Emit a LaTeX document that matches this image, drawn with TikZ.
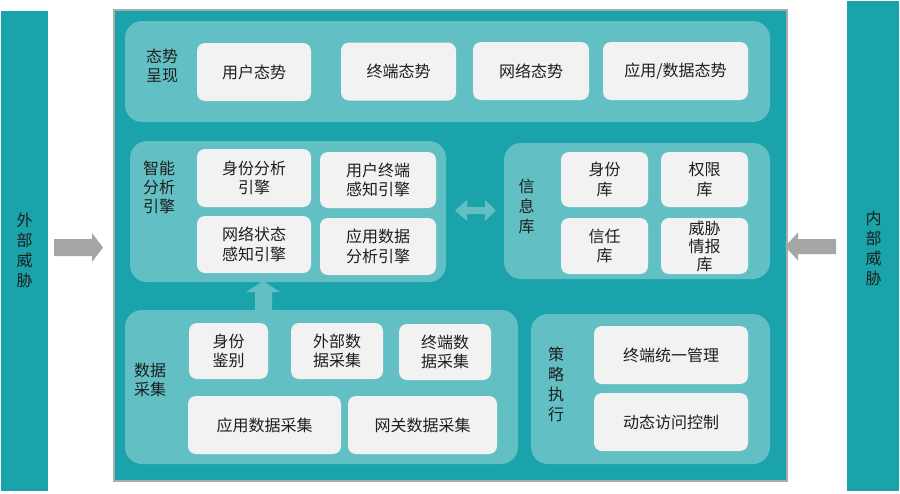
\documentclass[tikz,border=0pt]{standalone}
\usepackage{fontspec}
\newfontfamily\cjk{Noto Sans CJK SC}
\definecolor{darkteal}{HTML}{1AA3AA}
\definecolor{lightteal}{HTML}{62C0C4}
\definecolor{boxgray}{HTML}{F2F2F2}
\definecolor{arrowgray}{HTML}{A6A6A6}
\definecolor{bordergray}{HTML}{ABABAB}
\definecolor{txt}{HTML}{1E1E1E}
\begin{document}
\begin{tikzpicture}[x=1pt,y=-1pt,
  bar/.style={fill=darkteal, draw=none, inner sep=0pt, align=center, text=txt,
    font=\cjk\fontsize{15.5}{20}\selectfont},
  mainbox/.style={fill=darkteal, draw=bordergray, line width=2pt, inner sep=0pt},
  panel/.style={fill=lightteal, draw=none, rounded corners=17pt, inner sep=0pt},
  box/.style={fill=boxgray, draw=none, rounded corners=8pt, inner sep=0pt, align=center, text=txt,
    font=\cjk\fontsize{16}{19.5}\selectfont},
  lbl/.style={inner sep=0pt, align=center, text=txt, font=\cjk\fontsize{16}{19}\selectfont},
  vlbl/.style={inner sep=0pt, align=center, text=txt, font=\cjk\fontsize{16}{20}\selectfont},
  blockarrow/.style={draw=none}
]
\useasboundingbox (0,0) rectangle (900,493);
\fill[white] (0,0) rectangle (900,493);

% side bars
\node[bar, minimum width=47, minimum height=480] (ext) at (24.5,251) {};
\node[vlbl] (extlbl) at (24.5,250) {外\\部\\威\\胁};
\node[bar, minimum width=52, minimum height=490] (int) at (873,246) {};
\node[vlbl] (intlbl) at (873.5,248) {内\\部\\威\\胁};

% main box
\node[mainbox, minimum width=673, minimum height=471] (main) at (450.5,245.5) {};

% top panel
\node[panel, minimum width=645, minimum height=101] (top) at (447.5,71.5) {};
\node[lbl] (toplbl) at (162,66) {态势\\呈现};
\node[box, minimum width=114, minimum height=58] (u1) at (254,72) {用户态势};
\node[box, minimum width=115, minimum height=58] (u2) at (398.5,71.5) {终端态势};
\node[box, minimum width=116, minimum height=58] (u3) at (531,71) {网络态势};
\node[box, minimum width=145, minimum height=58] (u4) at (675.5,71) {应用/数据态势};

% analysis panel
\node[panel, minimum width=316, minimum height=141] (ana) at (288,211.5) {};
\node[lbl] (analbl) at (159,187) {智能\\分析\\引擎};
\node[box, minimum width=114, minimum height=58] (a1) at (254,178) {身份分析\\引擎};
\node[box, minimum width=116, minimum height=56] (a2) at (378,180) {用户终端\\感知引擎};
\node[box, minimum width=114, minimum height=57] (a3) at (254,244.5) {网络状态\\感知引擎};
\node[box, minimum width=116, minimum height=57] (a4) at (378,246.5) {应用数据\\分析引擎};

% info panel
\node[panel, minimum width=266, minimum height=136] (info) at (637,211) {};
\node[vlbl] (infolbl) at (526.5,206) {信\\息\\库};
\node[box, minimum width=87, minimum height=55] (i1) at (604.5,179.5) {身份\\库};
\node[box, minimum width=87, minimum height=55] (i2) at (704.5,179.5) {权限\\库};
\node[box, minimum width=87, minimum height=56] (i3) at (604.5,246) {信任\\库};
\node[box, minimum width=87, minimum height=56, font=\cjk\fontsize{16}{18}\selectfont] (i4) at (704.5,246) {威胁\\情报\\库};

% data panel
\node[panel, minimum width=393, minimum height=154] (data) at (321.5,387) {};
\node[lbl] (datalbl) at (150,379.5) {数据\\采集};
\node[box, minimum width=79, minimum height=56] (d1) at (228.5,351) {身份\\鉴别};
\node[box, minimum width=92, minimum height=56] (d2) at (337,351) {外部数\\据采集};
\node[box, minimum width=92, minimum height=56] (d3) at (445,352) {终端数\\据采集};
\node[box, minimum width=153, minimum height=58] (d4) at (264.5,425) {应用数据采集};
\node[box, minimum width=149, minimum height=58] (d5) at (422.5,425) {网关数据采集};

% policy panel
\node[panel, minimum width=239, minimum height=150] (pol) at (650.5,389) {};
\node[vlbl] (pollbl) at (556,384) {策\\略\\执\\行};
\node[box, minimum width=154, minimum height=58] (p1) at (671,355) {终端统一管理};
\node[box, minimum width=154, minimum height=58] (p2) at (671,422) {动态访问控制};

% arrows
\fill[arrowgray] (54,239) -- (92,239) -- (92,233) -- (103,247.5) -- (92,262) -- (92,256) -- (54,256) -- cycle;
\fill[arrowgray] (836,239) -- (798,239) -- (798,232.5) -- (785,246.5) -- (798,260.5) -- (798,254) -- (836,254) -- cycle;
\fill[lightteal] (455,210.5) -- (467,200) -- (467,207) -- (485,207) -- (485,200) -- (496,210.5) -- (485,221) -- (485,214) -- (467,214) -- (467,221) -- cycle;
\fill[lightteal] (263,281) -- (280,292) -- (272,292) -- (272,312) -- (255,312) -- (255,292) -- (246,292) -- cycle;
\end{tikzpicture}
\end{document}
